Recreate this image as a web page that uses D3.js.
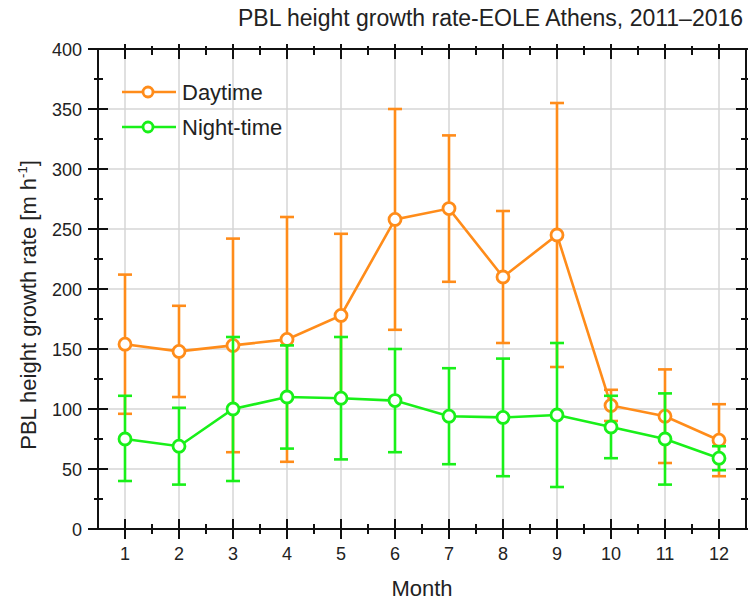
<!DOCTYPE html>
<html>
<head>
<meta charset="utf-8">
<script src="https://cdn.jsdelivr.net/npm/d3@7"></script>
<style>
  html, body { margin: 0; padding: 0; background: #fff; }
  svg { display: block; font-family: "Liberation Sans", Arial, sans-serif; }
</style>
</head>
<body>
<svg id="chart" width="748" height="601"></svg>
<script>
// Monthly PBL height growth rate, EOLE Athens 2011–2016
const months = [1, 2, 3, 4, 5, 6, 7, 8, 9, 10, 11, 12];

const dayMean  = [154, 148, 153, 158, 178, 258, 267, 210, 245, 103, 94, 74];
const dayUpper = [212, 186, 242, 260, 246, 350, 328, 265, 355, 116, 133, 104];
const dayLower = [96, 110, 64, 56, 110, 166, 206, 155, 135, 90, 55, 44];

const nightMean  = [75, 69, 100, 110, 109, 107, 94, 93, 95, 85, 75, 59];
const nightUpper = [111, 101, 160, 153, 160, 150, 134, 142, 155, 111, 113, 69];
const nightLower = [40, 37, 40, 67, 58, 64, 54, 44, 35, 59, 37, 49];

const yTicks = [0, 50, 100, 150, 200, 250, 300, 350, 400];
const seriesNames = ["Daytime", "Night-time"];
const seriesColors = ["#ff8c1a", "#19f019"];

const svg = d3.select("#chart");
const W = 748, H = 601;
const plot = { left: 98, right: 746, top: 49, bottom: 529 };

svg.append("rect").attr("width", W).attr("height", H).attr("fill", "#fff");

const x = d3.scaleLinear().domain([0.5, 12.5]).range([plot.left, plot.right]);
const y = d3.scaleLinear().domain([0, 400]).range([plot.bottom, plot.top]);

const minorX = d3.range(1, 12.5, 0.5).filter(v => !Number.isInteger(v));
const minorY = d3.range(25, 400, 50);

// grid
const grid = svg.append("g").attr("stroke", "#d6d6d6").attr("stroke-width", 1.5);
grid.selectAll("line.gx").data(months).join("line")
  .attr("x1", d => x(d)).attr("x2", d => x(d))
  .attr("y1", plot.top).attr("y2", plot.bottom);
grid.selectAll("line.gy").data(yTicks.slice(1, -1)).join("line")
  .attr("y1", d => y(d)).attr("y2", d => y(d))
  .attr("x1", plot.left).attr("x2", plot.right);

// series: error bars, lines, markers
function drawSeries(mean, lower, upper, color) {
  const g = svg.append("g");
  const cap = 7;
  const eb = g.append("g").attr("stroke", color).attr("stroke-width", 2.6);
  months.forEach((m, i) => {
    eb.append("line").attr("x1", x(m)).attr("x2", x(m))
      .attr("y1", y(lower[i])).attr("y2", y(upper[i]));
    eb.append("line").attr("x1", x(m) - cap).attr("x2", x(m) + cap)
      .attr("y1", y(upper[i])).attr("y2", y(upper[i]));
    eb.append("line").attr("x1", x(m) - cap).attr("x2", x(m) + cap)
      .attr("y1", y(lower[i])).attr("y2", y(lower[i]));
  });
  const line = d3.line().x((d, i) => x(months[i])).y(d => y(d));
  g.append("path").datum(mean).attr("d", line)
    .attr("fill", "none").attr("stroke", color).attr("stroke-width", 2.6);
  g.selectAll("circle").data(mean).join("circle")
    .attr("cx", (d, i) => x(months[i])).attr("cy", d => y(d))
    .attr("r", 6).attr("fill", "#fff").attr("stroke", color).attr("stroke-width", 2.8);
}
drawSeries(dayMean, dayLower, dayUpper, seriesColors[0]);
drawSeries(nightMean, nightLower, nightUpper, seriesColors[1]);

// axes
const axisG = svg.append("g").attr("stroke", "#111").attr("stroke-width", 2);
axisG.append("rect")
  .attr("x", plot.left).attr("y", plot.top)
  .attr("width", plot.right - plot.left).attr("height", plot.bottom - plot.top)
  .attr("fill", "none");

function ticks(vals, horizontal, pos, outLen, inLen, dir) {
  vals.forEach(v => {
    if (horizontal) {
      axisG.append("line").attr("x1", x(v)).attr("x2", x(v))
        .attr("y1", pos + dir * outLen).attr("y2", pos - dir * inLen);
    } else {
      axisG.append("line").attr("y1", y(v)).attr("y2", y(v))
        .attr("x1", pos - dir * outLen).attr("x2", pos + dir * inLen);
    }
  });
}
ticks(months, true, plot.bottom, 10, 10, 1);
ticks(minorX, true, plot.bottom, 5, 5, 1);
ticks(months, true, plot.top, 5, 10, -1);
ticks(minorX, true, plot.top, 3, 6, -1);
ticks(yTicks, false, plot.left, 10, 10, 1);
ticks(minorY, false, plot.left, 4, 5, 1);
ticks(yTicks, false, plot.right, 10, 10, -1);
ticks(minorY, false, plot.right, 4, 5, -1);

// tick labels
svg.append("g").selectAll("text").data(yTicks).join("text")
  .attr("x", 82).attr("y", d => y(d) + 6.5)
  .attr("text-anchor", "end").attr("font-size", 18).attr("fill", "#222")
  .text(d => d);
svg.append("g").selectAll("text").data(months).join("text")
  .attr("x", d => x(d)).attr("y", 560)
  .attr("text-anchor", "middle").attr("font-size", 18).attr("fill", "#222")
  .text(d => d);

// titles
svg.append("text").attr("x", 238).attr("y", 26)
  .attr("font-size", 23).attr("fill", "#222")
  .text("PBL height growth rate-EOLE Athens, 2011–2016");

svg.append("text").attr("x", 422).attr("y", 596)
  .attr("text-anchor", "middle").attr("font-size", 22).attr("fill", "#222")
  .text("Month");

const yl = svg.append("text")
  .attr("transform", "translate(36,305) rotate(-90)")
  .attr("text-anchor", "middle").attr("font-size", 22).attr("fill", "#222");
yl.append("tspan").text("PBL height growth rate [m h");
yl.append("tspan").attr("font-size", 13).attr("dy", -9).text("-1");
yl.append("tspan").attr("dy", 9).text("]");

// legend
const legend = svg.append("g");
seriesNames.forEach((name, i) => {
  const ly = 92 + i * 35;
  legend.append("line").attr("x1", 122).attr("x2", 176).attr("y1", ly).attr("y2", ly)
    .attr("stroke", seriesColors[i]).attr("stroke-width", 2.6);
  legend.append("circle").attr("cx", 148).attr("cy", ly).attr("r", 5)
    .attr("fill", "#fff").attr("stroke", seriesColors[i]).attr("stroke-width", 2.8);
  legend.append("text").attr("x", 182).attr("y", ly + 8)
    .attr("font-size", 22).attr("fill", "#222").text(name);
});
</script>
</body>
</html>
